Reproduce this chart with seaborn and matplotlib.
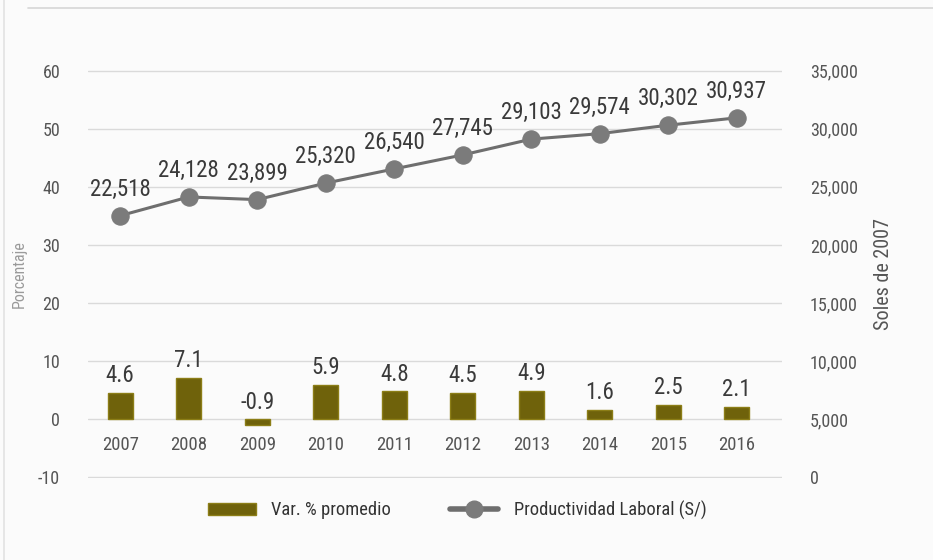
import matplotlib
matplotlib.use("Agg")
import matplotlib.pyplot as plt
from matplotlib.lines import Line2D
from matplotlib.patches import Patch
import seaborn as sns
import pandas as pd
import numpy as np

years = ["2007", "2008", "2009", "2010", "2011", "2012", "2013", "2014", "2015", "2016"]
var_pct = [4.6, 7.1, -0.9, 5.9, 4.8, 4.5, 4.9, 1.6, 2.5, 2.1]
productividad = [22518, 24128, 23899, 25320, 26540, 27745, 29103, 29574, 30302, 30937]
left_ticks = [-10, 0, 10, 20, 30, 40, 50, 60]
right_ticks = [0, 5000, 10000, 15000, 20000, 25000, 30000, 35000]

sns.set_theme(style="white")
plt.rcParams["font.family"] = ["Roboto Condensed", "Liberation Sans Narrow",
                               "DejaVu Sans Condensed", "Roboto", "DejaVu Sans"]
plt.rcParams["font.stretch"] = "condensed"

bar_color = "#6f620b"
bar_edge = "#8c7e17"
line_color = "#6e6e6e"
marker_color = "#7b7b7b"
tick_color = "#555555"

fig = plt.figure(figsize=(9.33, 5.60), dpi=100, facecolor="#fbfbfb")
ax = fig.add_axes([0.0943, 0.1464, 0.7439, 0.7286])
ax.set_facecolor("none")

df = pd.DataFrame({"anio": years, "var": var_pct, "prod": productividad})

sns.barplot(data=df, x="anio", y="var", ax=ax, color=bar_color, width=0.37,
            edgecolor=bar_edge, linewidth=1.0, saturation=1)

ax.set_ylim(-10.1, 60.1)
ax.set_yticks(left_ticks)
ax.set_yticklabels([str(t) for t in left_ticks])
ax.set_xlim(-0.47, 9.66)
ax.grid(axis="y", color="#dadada", linewidth=1.0)
ax.set_axisbelow(True)
for s in ax.spines.values():
    s.set_visible(False)
ax.spines["bottom"].set_position(("data", 0))
ax.tick_params(axis="x", length=0, pad=12, labelsize=13.5, labelcolor=tick_color)
ax.tick_params(axis="y", length=0, pad=20, labelsize=13, labelcolor=tick_color)
ax.set_xlabel("")
ax.set_ylabel("Porcentaje", color="#9a9a9a", fontsize=11.5, labelpad=8)

for i, v in enumerate(var_pct):
    ax.text(i, max(v, 0) + 1.0, f"{v:.1f}", ha="center", va="bottom",
            fontsize=16.5, color="#3a3a3a")

ax2 = ax.twinx()
ax2.set_facecolor("none")
sns.lineplot(x=np.arange(len(years)), y=df["prod"], ax=ax2, color=line_color,
             linewidth=2.2, marker="o", markersize=12.5, markerfacecolor=marker_color,
             markeredgecolor=marker_color)
ax2.set_ylim(-50, 35050)
ax2.set_yticks(right_ticks)
ax2.set_yticklabels([f"{t:,}" for t in right_ticks])
ax2.set_xlim(-0.47, 9.66)
for s in ax2.spines.values():
    s.set_visible(False)
ax2.tick_params(axis="y", length=0, pad=20, labelsize=13, labelcolor=tick_color)
ax2.set_ylabel("Soles de 2007", color="#555555", fontsize=14.5, labelpad=12)
ax2.grid(False)

for i, v in enumerate(productividad):
    ax2.text(i, v + 1300, f"{v:,}", ha="center", va="bottom",
             fontsize=16.5, color="#3a3a3a")

handles = [
    Patch(facecolor=bar_color, edgecolor=bar_edge),
    Line2D([0], [0], color=line_color, linewidth=4, marker="o", markersize=12,
           markerfacecolor=marker_color, markeredgecolor=marker_color),
]
fig.legend(handles, ["Var. % promedio", "Productividad Laboral (S/)"],
           loc="center", bbox_to_anchor=(0.49, 0.089), ncol=2, frameon=False,
           fontsize=13.3, handlelength=2.6, handleheight=0.55, columnspacing=3.2,
           handletextpad=0.85, labelcolor="#333333")

# thin frame lines at the top and left edge of the panel
fig.add_artist(Line2D([0.03, 1.0], [0.986, 0.986], color="#d6d6d6", linewidth=1.2,
                      transform=fig.transFigure))
fig.add_artist(Line2D([0.004, 0.004], [0.0, 1.0], color="#e2e2e2", linewidth=1.2,
                      transform=fig.transFigure))

fig.savefig("out.png", dpi=100, facecolor=fig.get_facecolor())
